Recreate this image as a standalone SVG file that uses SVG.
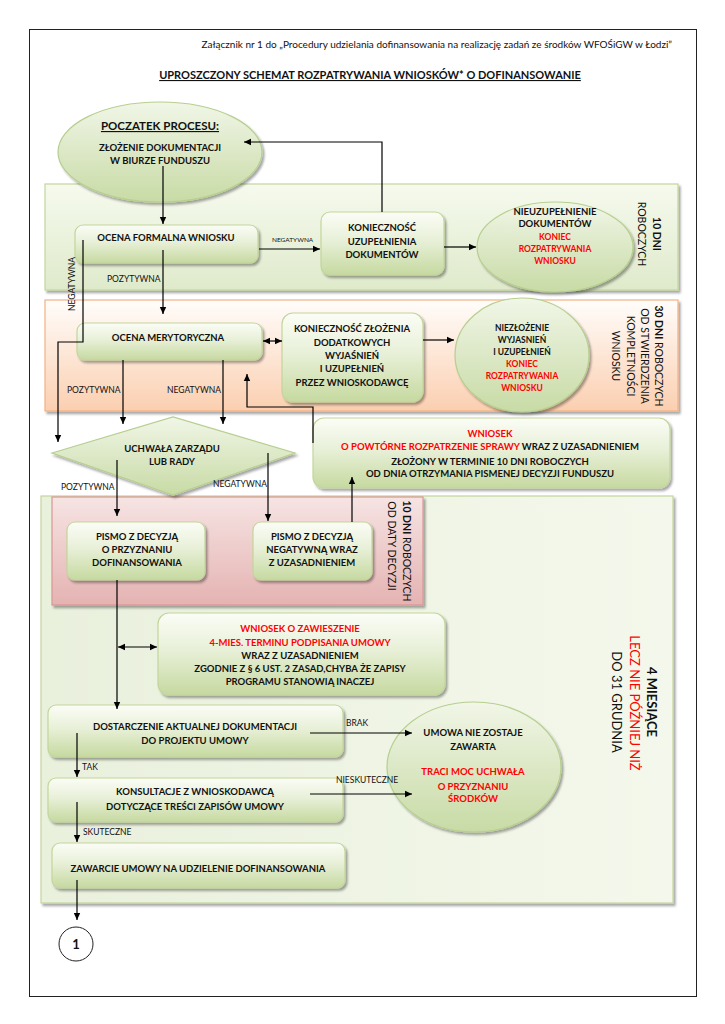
<svg xmlns="http://www.w3.org/2000/svg" width="725" height="1024" viewBox="0 0 725 1024">
<defs>
<style>
text{font-family:Lato,"Open Sans","Liberation Sans",sans-serif;fill:#111}
.n{font-size:9.5px;font-weight:bold;text-anchor:middle}
.s{font-size:8.5px;font-weight:bold;text-anchor:middle}
.r{fill:#ff0000}
.lb{font-size:8.5px}
.rot{font-size:10.5px;text-anchor:middle}
.box{fill:url(#gNode);stroke:#c3d69b;stroke-width:1.2;filter:url(#sh)}
.ell{fill:url(#gEll);stroke:#b7cf8f;stroke-width:1.2;filter:url(#sh)}
.c{fill:none;stroke:#000;stroke-width:1.2}
.a{marker-end:url(#ah)}
.d{marker-start:url(#ah);marker-end:url(#ah)}
</style>
<linearGradient id="gNode" x1="0" y1="0" x2="0" y2="1"><stop offset="0" stop-color="#fbfdf6"/><stop offset="0.45" stop-color="#e8f0d8"/><stop offset="1" stop-color="#c6d9a0"/></linearGradient>
<linearGradient id="gEll" x1="0" y1="0" x2="0" y2="1"><stop offset="0" stop-color="#f1f6e7"/><stop offset="0.5" stop-color="#dce8c6"/><stop offset="1" stop-color="#c8dba5"/></linearGradient>
<linearGradient id="gB1" x1="0" y1="0" x2="0" y2="1"><stop offset="0" stop-color="#f6faee"/><stop offset="1" stop-color="#dfeacb"/></linearGradient>
<linearGradient id="gB2" x1="0" y1="0" x2="0" y2="1"><stop offset="0" stop-color="#fffdfb"/><stop offset="1" stop-color="#fbcfb0"/></linearGradient>
<linearGradient id="gB3" x1="0" y1="0" x2="1" y2="0"><stop offset="0" stop-color="#e9f0dc"/><stop offset="1" stop-color="#f4f8ec"/></linearGradient>
<linearGradient id="gPk" x1="0" y1="0" x2="0" y2="1"><stop offset="0" stop-color="#f6e4e3"/><stop offset="1" stop-color="#e4b3b2"/></linearGradient>
<filter id="sh" x="-10%" y="-10%" width="125%" height="130%"><feDropShadow dx="2" dy="2.5" stdDeviation="1.3" flood-color="#000" flood-opacity="0.35"/></filter>
<marker id="ah" markerWidth="8" markerHeight="8" refX="7" refY="4" orient="auto-start-reverse" markerUnits="userSpaceOnUse"><path d="M0,0.8 L7,4 L0,7.2 z" fill="#000"/></marker>
</defs>

<rect x="29.5" y="29.5" width="667" height="967" fill="#fff" stroke="#222" stroke-width="1"/>

<text x="672" y="48" font-size="10" text-anchor="end">Załącznik nr 1 do „Procedury udzielania dofinansowania na realizację zadań ze środków WFOŚiGW w Łodzi”</text>
<text x="370" y="79" font-size="11" font-weight="bold" text-anchor="middle" text-decoration="underline">UPROSZCZONY SCHEMAT ROZPATRYWANIA WNIOSKÓW* O DOFINANSOWANIE</text>

<!-- bands -->
<g id="band1">
<rect x="45" y="184" width="633" height="106" fill="url(#gB1)" stroke="#c3d69b" stroke-width="1.2" filter="url(#sh)"/>
<text transform="translate(653,234) rotate(90)" class="rot" font-weight="bold">10 DNI</text>
<text transform="translate(638,234) rotate(90)" class="rot">ROBOCZYCH</text>
</g>
<g id="band2">
<rect x="45" y="300" width="633" height="111" fill="url(#gB2)" stroke="#f4b183" stroke-width="1.2" filter="url(#sh)"/>
<text transform="translate(655,356) rotate(90)" class="rot"><tspan font-weight="bold">30 DNI</tspan> ROBOCZYCH</text>
<text transform="translate(641,356) rotate(90)" class="rot">OD STWIERDZENIA</text>
<text transform="translate(627,356) rotate(90)" class="rot">KOMPLETNOŚCI</text>
<text transform="translate(612,356) rotate(90)" class="rot">WNIOSKU</text>
</g>
<g id="band3">
<rect x="41" y="496" width="632" height="407" fill="url(#gB3)" stroke="#c3d69b" stroke-width="1.2" filter="url(#sh)"/>
<text transform="translate(647,702) rotate(90)" font-size="13" font-weight="bold" text-anchor="middle">4 MIESIĄCE</text>
<text transform="translate(630,703) rotate(90)" font-size="13" text-anchor="middle" class="r">LECZ NIE PÓŹNIEJ NIŻ</text>
<text transform="translate(612,702) rotate(90)" font-size="13" text-anchor="middle">DO 31 GRUDNIA</text>
</g>
<g id="band3pink">
<rect x="52" y="497" width="371" height="108" fill="url(#gPk)" stroke="#d99694" stroke-width="1.2" filter="url(#sh)"/>
<text transform="translate(403,551) rotate(90)" class="rot"><tspan font-weight="bold">10 DNI</tspan> ROBOCZYCH</text>
<text transform="translate(388,546) rotate(90)" class="rot">OD DATY DECYZJI</text>
</g>

<!-- nodes -->
<g id="start">
<ellipse cx="160" cy="152" rx="102" ry="50" class="ell"/>
<text x="160" y="130" font-size="11.5" font-weight="bold" text-anchor="middle" text-decoration="underline">POCZATEK PROCESU:</text>
<text x="160" y="151" class="n">ZŁOŻENIE DOKUMENTACJI</text>
<text x="160" y="164" class="n">W BIURZE FUNDUSZU</text>
</g>
<g id="ocena-formalna">
<rect x="75" y="225" width="183" height="38" rx="8" class="box"/>
<text x="166" y="241" class="n">OCENA FORMALNA WNIOSKU</text>
</g>
<g id="koniecznosc-uzup">
<rect x="321" y="212" width="123" height="63" rx="9" class="box"/>
<text x="382" y="231" class="n">KONIECZNOŚĆ</text>
<text x="382" y="245" class="n">UZUPEŁNIENIA</text>
<text x="382" y="258" class="n">DOKUMENTÓW</text>
</g>
<g id="nieuzupelnienie">
<ellipse cx="555" cy="247" rx="78" ry="45" class="ell"/>
<text x="555" y="215" class="n">NIEUZUPEŁNIENIE</text>
<text x="555" y="227" class="n">DOKUMENTÓW</text>
<text x="555" y="240" class="s r">KONIEC</text>
<text x="555" y="252" class="s r">ROZPATRYWANIA</text>
<text x="555" y="264" class="s r">WNIOSKU</text>
</g>
<g id="ocena-merytoryczna">
<rect x="77" y="323" width="185" height="37" rx="8" class="box"/>
<text x="168" y="341" class="n">OCENA MERYTORYCZNA</text>
</g>
<g id="koniecznosc-zlozenia">
<rect x="282" y="313" width="141" height="89" rx="11" class="box"/>
<text x="352" y="332" class="n">KONIECZNOŚĆ ZŁOŻENIA</text>
<text x="352" y="346" class="n">DODATKOWYCH</text>
<text x="352" y="359" class="n">WYJAŚNIEŃ</text>
<text x="352" y="372" class="n">I UZUPEŁNIEŃ</text>
<text x="352" y="386" class="n">PRZEZ WNIOSKODAWCĘ</text>
</g>
<g id="niezlozenie">
<ellipse cx="522" cy="355" rx="67" ry="57" class="ell"/>
<text x="522" y="331" class="s">NIEZŁOŻENIE</text>
<text x="522" y="343" class="s">WYJASNIEŃ</text>
<text x="522" y="355" class="s">I UZUPEŁNIEŃ</text>
<text x="522" y="367" class="s r">KONIEC</text>
<text x="522" y="379" class="s r">ROZPATRYWANIA</text>
<text x="522" y="391" class="s r">WNIOSKU</text>
</g>
<g id="uchwala">
<polygon points="52,453 173,417 295,453 173,495" fill="url(#gEll)" stroke="#b7cf8f" stroke-width="1.2" filter="url(#sh)"/>
<text x="172" y="452" class="n">UCHWAŁA ZARZĄDU</text>
<text x="172" y="465" class="n">LUB RADY</text>
</g>
<g id="wniosek-powtorne">
<rect x="313" y="418" width="357" height="70" rx="11" class="box"/>
<text x="490" y="437" class="n r">WNIOSEK</text>
<text x="490" y="450" class="n"><tspan class="r">O POWTÓRNE ROZPATRZENIE SPRAWY</tspan> WRAZ Z UZASADNIENIEM</text>
<text x="490" y="465" class="n">ZŁOŻONY W TERMINIE 10 DNI ROBOCZYCH</text>
<text x="490" y="477" class="n">OD DNIA OTRZYMANIA PISMENEJ DECYZJI FUNDUSZU</text>
</g>
<g id="pismo-przyznanie">
<rect x="67" y="522" width="138" height="58" rx="8" class="box"/>
<text x="137" y="540" class="n">PISMO Z DECYZJĄ</text>
<text x="137" y="553" class="n">O PRZYZNANIU</text>
<text x="137" y="566" class="n">DOFINANSOWANIA</text>
</g>
<g id="pismo-negatywne">
<rect x="253" y="522" width="119" height="58" rx="8" class="box"/>
<text x="312" y="540" class="n">PISMO Z DECYZJĄ</text>
<text x="312" y="553" class="n">NEGATYWNĄ WRAZ</text>
<text x="312" y="566" class="n">Z UZASADNIENIEM</text>
</g>
<g id="wniosek-zawieszenie">
<rect x="158" y="613" width="287" height="82" rx="11" class="box"/>
<text x="300" y="632" class="n r">WNIOSEK O ZAWIESZENIE</text>
<text x="300" y="646" class="n r">4-MIES. TERMINU PODPISANIA UMOWY</text>
<text x="300" y="658.5" class="n">WRAZ Z UZASADNIENIEM</text>
<text x="300" y="671.5" class="n">ZGODNIE Z § 6 UST. 2 ZASAD,CHYBA ŻE ZAPISY</text>
<text x="300" y="685" class="n">PROGRAMU STANOWIĄ INACZEJ</text>
</g>
<g id="dostarczenie">
<rect x="48" y="705" width="295" height="52" rx="8" class="box"/>
<text x="195" y="730" class="n">DOSTARCZENIE AKTUALNEJ DOKUMENTACJI</text>
<text x="195" y="744" class="n">DO PROJEKTU UMOWY</text>
</g>
<g id="konsultacje">
<rect x="48" y="778" width="295" height="44" rx="8" class="box"/>
<text x="195" y="795" class="n">KONSULTACJE Z WNIOSKODAWCĄ</text>
<text x="195" y="809.5" class="n">DOTYCZĄCE TREŚCI ZAPISÓW UMOWY</text>
</g>
<g id="zawarcie">
<rect x="52" y="843" width="293" height="45" rx="8" class="box"/>
<text x="198" y="872" class="n">ZAWARCIE UMOWY NA UDZIELENIE DOFINANSOWANIA</text>
</g>
<g id="umowa-nie">
<ellipse cx="474" cy="767" rx="87" ry="65" class="ell"/>
<text x="473" y="736" class="n">UMOWA NIE ZOSTAJE</text>
<text x="473" y="750" class="n">ZAWARTA</text>
<text x="473" y="775" class="n r">TRACI MOC UCHWAŁA</text>
<text x="473" y="790" class="n r">O PRZYZNANIU</text>
<text x="473" y="802" class="n r">ŚRODKÓW</text>
</g>
<g id="page-1">
<circle cx="76" cy="944" r="17" fill="#fff" stroke="#222" stroke-width="1"/>
<text x="76" y="949" font-size="13" font-weight="bold" text-anchor="middle">1</text>
</g>

<!-- connectors -->
<g id="connectors">
<path class="c a" d="M163,166 V224"/>
<path class="c a" d="M259,249 H320"/>
<path class="c a" d="M382,212 V142 H244"/>
<path class="c a" d="M444,247 H476"/>
<path class="c a" d="M83,240 V342 H58 V442"/>
<path class="c a" d="M163,250 V314"/>
<path class="c d" d="M263,341 H282"/>
<path class="c a" d="M423,340 H454"/>
<path class="c a" d="M123,360 V424"/>
<path class="c a" d="M223,360 V424"/>
<path class="c a" d="M313,443 V407 H247 V374"/>
<path class="c a" d="M117,460 V516"/>
<path class="c a" d="M268,453 V521"/>
<path class="c a" d="M352,522 V477"/>
<path class="c a" d="M117,580 V709"/>
<path class="c d" d="M118,647 H157"/>
<path class="c a" d="M310,733 H412"/>
<path class="c a" d="M77,733 V777"/>
<path class="c a" d="M310,794 H412"/>
<path class="c a" d="M77,802 V842"/>
<path class="c a" d="M77,880 V920"/>
<text x="272" y="242" font-size="6.5">NEGATYWNA</text>
<text x="107" y="282" class="lb">POZYTYWNA</text>
<text transform="translate(75,284) rotate(-90)" class="lb" text-anchor="middle">NEGATYWNA</text>
<text x="67" y="393" class="lb">POZYTYWNA</text>
<text x="167" y="393" class="lb">NEGATYWNA</text>
<text x="61" y="490" class="lb">POZYTYWNA</text>
<text x="213" y="487" class="lb">NEGATYWNA</text>
<text x="346" y="726" class="lb">BRAK</text>
<text x="82" y="770" class="lb">TAK</text>
<text x="336" y="783" class="lb">NIESKUTECZNE</text>
<text x="83" y="835" class="lb">SKUTECZNE</text>
</g>
</svg>
